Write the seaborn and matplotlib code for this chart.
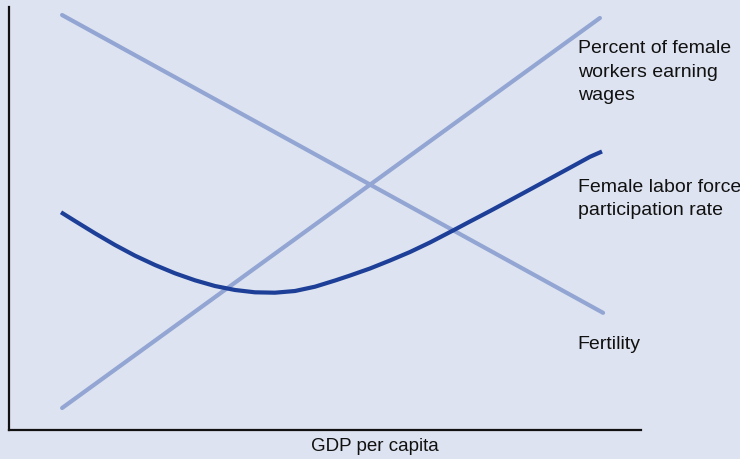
import matplotlib
matplotlib.use("Agg")
import matplotlib.pyplot as plt
import seaborn as sns

# Data (schematic, 0-100 scale)
wages_x = [8.4, 93.5]
wages_y = [5.2, 97.4]
fert_x = [8.4, 94.0]
fert_y = [98.1, 27.7]
lfp_x = [8.23, 10.44, 13.61, 16.77, 19.94, 23.10, 26.27, 29.43, 32.59, 35.76,
         38.92, 42.09, 45.25, 48.42, 51.58, 53.96, 57.12, 60.28, 63.45, 66.61,
         70.25, 72.94, 76.11, 79.27, 82.44, 85.60, 88.77, 91.93, 93.83]
lfp_y = [51.47, 49.41, 46.50, 43.74, 41.21, 39.01, 37.04, 35.39, 34.04, 33.10,
         32.55, 32.46, 32.86, 33.88, 35.34, 36.52, 38.18, 40.07, 42.08, 44.33,
         47.16, 49.29, 51.77, 54.30, 56.86, 59.43, 62.01, 64.59, 65.84]

labels = ["Percent of female\nworkers earning\nwages",
          "Female labor force\nparticipation rate",
          "Fertility"]
xlabel = "GDP per capita"

BG = "#dde3f0"
LIGHT = "#92a5d3"
DARK = "#1d3f98"
TXT = "#111111"

sns.set_style("white")
plt.rcParams["font.family"] = ["Liberation Sans", "DejaVu Sans"]

fig = plt.figure(figsize=(7.4, 4.59), dpi=100, facecolor=BG)
ax = fig.add_axes([9/740, 29/459, 632/740, 423/459])
ax.set_facecolor(BG)

sns.lineplot(x=wages_x, y=wages_y, ax=ax, color=LIGHT, linewidth=3.0, sort=False)
sns.lineplot(x=fert_x, y=fert_y, ax=ax, color=LIGHT, linewidth=3.0, sort=False)
sns.lineplot(x=lfp_x, y=lfp_y, ax=ax, color=DARK, linewidth=3.0, sort=False,
             solid_joinstyle="round", solid_capstyle="butt")

ax.set_xlim(0, 100)
ax.set_ylim(0, 100)
ax.set_xticks([])
ax.set_yticks([])
ax.set_xlabel("")
ax.set_ylabel("")
for s in ["top", "right"]:
    ax.spines[s].set_visible(False)
for s in ["left", "bottom"]:
    ax.spines[s].set_color(TXT)
    ax.spines[s].set_linewidth(1.6)

fs = 14
ax.text(90.0, 84.6, labels[0], fontsize=fs, va="center", ha="left",
        linespacing=1.5, clip_on=False, color=TXT)
ax.text(90.0, 54.6, labels[1], fontsize=fs, va="center", ha="left",
        linespacing=1.5, clip_on=False, color=TXT)
ax.text(90.0, 20.3, labels[2], fontsize=fs, va="center", ha="left",
        clip_on=False, color=TXT)

ax.text(57.9, -4.0, xlabel, fontsize=13.5, va="center", ha="center",
        clip_on=False, color=TXT)

fig.savefig("out.png", dpi=100, facecolor=BG)
